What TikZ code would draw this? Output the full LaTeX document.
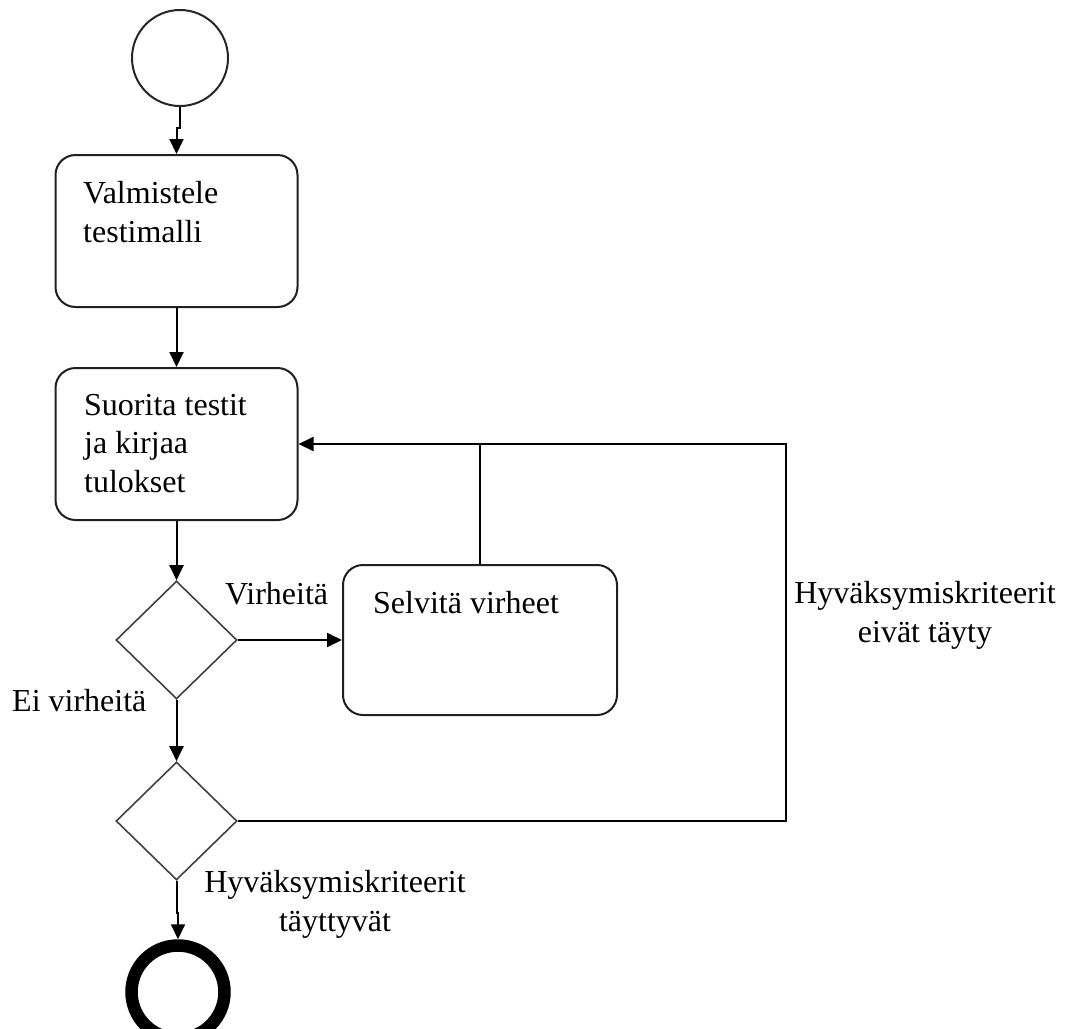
\documentclass[tikz,border=0pt]{standalone}
\usepackage{fontspec}
\setmainfont{Liberation Serif}
\usetikzlibrary{shapes.geometric,arrows.meta}
\begin{document}
\begin{tikzpicture}[x=1pt,y=-1pt,
  every node/.style={font=\fontsize{32}{38.5}\selectfont},
  flow/.style={draw=black, line width=2pt, -{Triangle[length=15pt,width=14pt]}},
  plain/.style={draw=black, line width=2pt},
  actbox/.style={draw=black!88, line width=2pt, rounded corners=20pt, minimum width=242pt, inner sep=0pt},
  choice/.style={diamond, draw=black!75, line width=1.6pt, inner sep=0pt, minimum width=121pt, minimum height=118pt},
  txt/.style={inner sep=0pt, align=left, anchor=base west},
  ctxt/.style={inner sep=0pt, align=center, anchor=base}
]
\useasboundingbox (0,0) rectangle (1072,1029);

% start and end states
\node[circle, draw=black!85, line width=2pt, minimum size=96pt, inner sep=0pt] (start) at (180,58) {};
\node[circle, draw=black, line width=12.5pt, minimum size=93pt, inner sep=0pt] (final) at (178,992) {};

% activities
\node[actbox, minimum height=152pt] (prep) at (176.5,231) {};
\node[actbox, minimum height=152pt] (run) at (176.5,444) {};
\node[actbox, minimum width=274pt, minimum height=150pt] (fix) at (480,640) {};

% multi-line texts are placed by the baseline of their last line
\node[txt] (preptext) at (83,242) {Valmistele\\testimalli};
\node[txt] (runtext) at (84,492) {Suorita testit\\ja kirjaa\\tulokset};
\node[txt] (fixtext) at (373,613) {Selvitä virheet};

% decisions
\node[choice] (errq) at (176.5,640) {};
\node[choice] (accq) at (176.5,821) {};

% connectors
\draw[flow] (start.south) -- ++(0,21) -| (prep.north);
\draw[flow] (prep.south) -- (run.north);
\draw[flow] (run.south) -- (errq.north);
\draw[flow] (errq.east) -- (fix.west);
\draw[flow] (errq.south) -- (accq.north);
\draw[flow] (accq.south) -- ++(0,32) -| (final.north);

\coordinate (backcorner) at (786,444);
\draw[flow] (accq.east) -| (backcorner) -- (run.east);
\draw[plain] (fix.north) -- (fix.north |- run.east);

% guard labels
\node[txt] (lblerr) at (225,604) {Virheitä};
\node[txt] (lblok) at (12,711) {Ei virheitä};
\node[ctxt] (lblpass) at (335,931) {Hyväksymiskriteerit\\täyttyvät};
\node[ctxt] (lblfail) at (925,642) {Hyväksymiskriteerit\\eivät täyty};
\end{tikzpicture}
\end{document}
